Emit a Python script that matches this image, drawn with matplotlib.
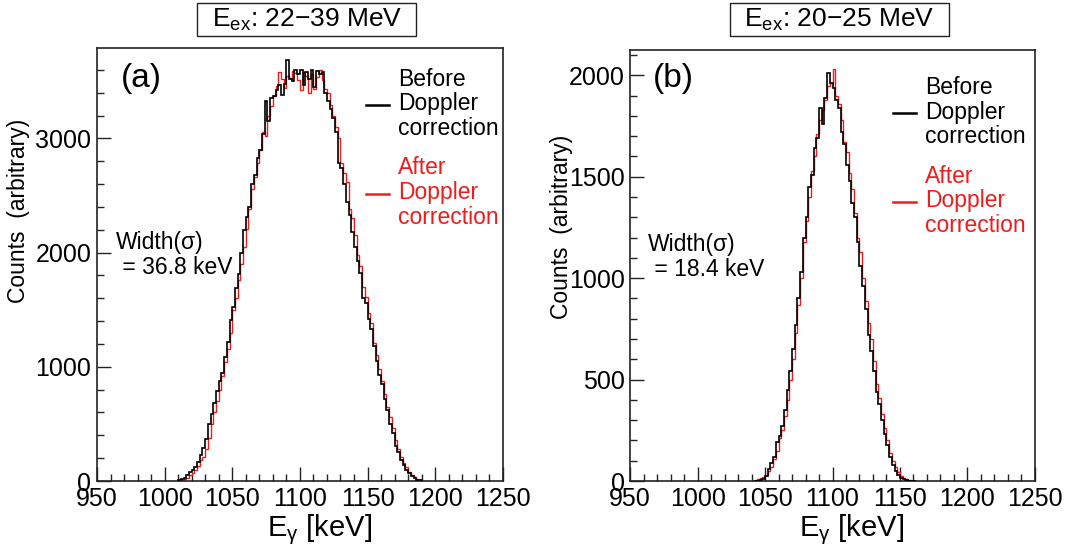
import matplotlib
matplotlib.use('Agg')
import matplotlib.pyplot as plt
import numpy as np
from matplotlib.ticker import MultipleLocator
from matplotlib.patches import Rectangle

plt.rcParams['font.family'] = ['Liberation Sans', 'DejaVu Sans']
plt.rcParams['mathtext.fontset'] = 'custom'
plt.rcParams['mathtext.rm'] = 'Liberation Sans'
plt.rcParams['mathtext.it'] = 'Liberation Sans:italic'

# bin width 2 keV, first bin edge given per panel
bin_width = 2
start_a = 1010
start_b = 1042

# panel (a): E_ex 22-39 MeV, counts per 2 keV bin
before_a = [5, 15, 30, 50, 75, 100, 125, 170, 230, 290,
            370, 500, 590, 680, 790, 880, 950, 1090, 1220, 1410,
            1520, 1690, 1810, 2000, 2200, 2310, 2400, 2600, 2680, 2830,
            2900, 3040, 3330, 3150, 3350, 3370, 3420, 3470, 3380, 3480,
            3690, 3520, 3500, 3600, 3560, 3600, 3470, 3580, 3520, 3600,
            3450, 3590, 3560, 3580, 3400, 3330, 3260, 3180, 3060, 2780,
            2740, 2600, 2440, 2330, 2180, 2050, 1930, 1820, 1600, 1560,
            1420, 1330, 1180, 1050, 930, 850, 720, 620, 500, 420,
            310, 250, 180, 140, 100, 70, 45, 25, 12, 5]
after_a = [2, 8, 15, 30, 50, 70, 100, 130, 180, 210,
           280, 380, 500, 600, 700, 800, 920, 1040, 1160, 1300,
           1500, 1600, 1760, 1900, 2050, 2210, 2380, 2560, 2660, 2780,
           2900, 3060, 3020, 3200, 3280, 3370, 3460, 3580, 3520, 3440,
           3550, 3530, 3590, 3570, 3510, 3420, 3580, 3550, 3400, 3560,
           3430, 3540, 3600, 3510, 3430, 3400, 3290, 3200, 3100, 3000,
           2780, 2700, 2620, 2380, 2300, 2150, 1980, 1880, 1700, 1610,
           1470, 1380, 1210, 1100, 980, 880, 760, 650, 560, 460,
           360, 280, 210, 160, 120, 80, 55, 35, 20, 8]

# panel (b): E_ex 20-25 MeV
before_b = [0, 2, 5, 10, 25, 60, 90, 120, 190, 220,
            270, 350, 450, 540, 650, 770, 900, 1030, 1200, 1300,
            1450, 1510, 1640, 1690, 1840, 1760, 1890, 2010, 1960, 1940,
            1880, 1840, 1720, 1660, 1560, 1480, 1370, 1300, 1180, 1060,
            960, 850, 720, 640, 540, 440, 380, 300, 230, 180,
            120, 80, 50, 30, 15, 8, 4, 2, 0, 0]
after_b = [5, 10, 15, 20, 30, 50, 70, 110, 150, 210,
           250, 320, 400, 500, 600, 730, 870, 1000, 1180, 1280,
           1400, 1530, 1600, 1710, 1780, 1830, 1880, 1950, 1960, 2030,
           1900, 1860, 1780, 1670, 1620, 1520, 1440, 1320, 1200, 1130,
           1000, 890, 780, 700, 590, 480, 410, 330, 260, 200,
           140, 100, 70, 45, 25, 15, 10, 5, 2, 0]

titles = [r'$\mathregular{E_{ex}}$: 22$-$39 MeV', r'$\mathregular{E_{ex}}$: 20$-$25 MeV']
tags = ['(a)', '(b)']
widths = ['Width(σ)\n = 36.8 keV', 'Width(σ)\n = 18.4 keV']
ymax = [3790, 2125]
ymajor = [1000, 500]
red = '#f01c1c'

fig = plt.figure(figsize=(10.68, 5.55), dpi=100)
ax_a = fig.add_axes([0.0908, 0.1333, 0.380, 0.780])
ax_b = fig.add_axes([0.590, 0.1333, 0.379, 0.7766])
axes = [ax_a, ax_b]

panels = [(before_a, after_a, start_a), (before_b, after_b, start_b)]
ylab_pos = [(-0.165, 0.625), (-0.14, 0.59)]
leg_anchor = [(0.662, 0.955), (0.650, 0.940)]
tag_pos = [(0.059, 0.929), (0.055, 0.933)]
width_pos = [(0.046, 0.523), (0.043, 0.52)]

for i, ax in enumerate(axes):
    before, after, start = panels[i]
    edges = start + bin_width * np.arange(len(before) + 1)
    h1 = ax.stairs(before, edges, color='black', linewidth=1.2)
    h2 = ax.stairs(after, edges, color=red, linewidth=1.0)
    # black drawn on top like the reference
    h1.set_zorder(3)
    h2.set_zorder(2)

    ax.set_xlim(950, 1250)
    ax.set_ylim(0, ymax[i])
    ax.xaxis.set_major_locator(MultipleLocator(50))
    ax.xaxis.set_minor_locator(MultipleLocator(10))
    ax.yaxis.set_major_locator(MultipleLocator(ymajor[i]))
    ax.yaxis.set_minor_locator(MultipleLocator(ymajor[i] / 5))
    ax.tick_params(which='both', direction='in', top=False, right=False,
                   labelsize=18, width=1.0, color='#222222')
    ax.tick_params(which='major', length=10, pad=4)
    ax.tick_params(which='minor', length=5)
    for s in ax.spines.values():
        s.set_linewidth(1.2)
        s.set_color('#222222')

    ax.set_xlabel(r'E$_{\mathrm{\gamma}}$ [keV]', fontsize=21)
    ax.xaxis.set_label_coords(0.548, -0.072)
    ax.set_ylabel('Counts  (arbitrary)', fontsize=16.5)
    ax.yaxis.set_label_coords(*ylab_pos[i])

    ax.text(tag_pos[i][0], tag_pos[i][1], tags[i], transform=ax.transAxes,
            fontsize=24, ha='left', va='center')
    ax.text(width_pos[i][0], width_pos[i][1], widths[i], transform=ax.transAxes,
            fontsize=16.5, ha='left', va='center', linespacing=1.1)

    leg = ax.legend([h1, h2], ['Before\nDoppler\ncorrection', 'After\nDoppler\ncorrection'],
                    loc='upper left', bbox_to_anchor=leg_anchor[i], frameon=False,
                    fontsize=16.5, handlelength=1.0, handletextpad=0.4,
                    labelspacing=0.7, borderpad=0, borderaxespad=0)
    leg.get_texts()[1].set_color(red)
    for t in leg.get_texts():
        t.set_linespacing(1.1)
    for line in leg.get_lines():
        line.set_linewidth(1.8)

    # boxed title above the frame
    pos = ax.get_position()
    cx = pos.x0 + 0.517 * pos.width
    bw, bh = 219 / 1068, 33 / 555
    fig.patches.append(Rectangle((cx - bw / 2, 1 - 36 / 555), bw, bh,
                                 transform=fig.transFigure, fill=False,
                                 edgecolor='#222222', linewidth=1.0))
    fig.text(cx, 1 - 20 / 555, titles[i], fontsize=19, ha='center', va='center')

fig.savefig('out.png', dpi=100)
